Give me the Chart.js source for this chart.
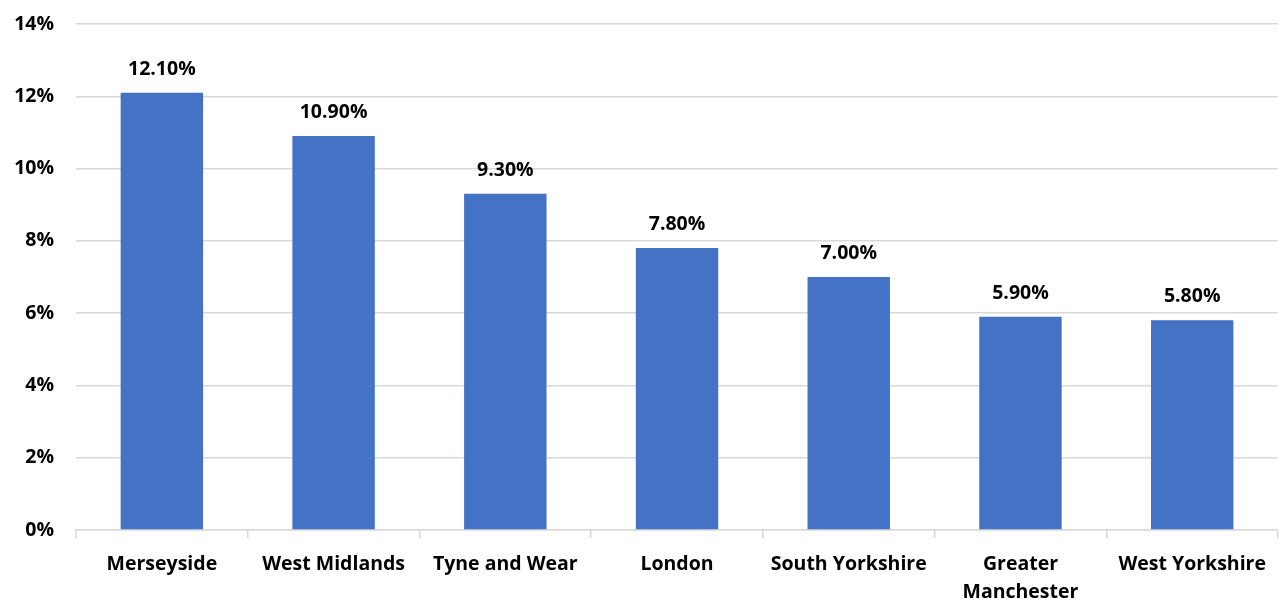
<!DOCTYPE html>
<html>
<head>
<meta charset="utf-8">
<script src="https://cdn.jsdelivr.net/npm/chart.js@4/dist/chart.umd.min.js"></script>
<style>
  html, body { margin: 0; padding: 0; background: #fff; }
  #wrap { width: 1279px; height: 599px; }
</style>
</head>
<body>
<div id="wrap"><canvas id="c" width="1279" height="599"></canvas></div>
<script>
// Share of population by metropolitan county
const regions = ['Merseyside', 'West Midlands', 'Tyne and Wear', 'London', 'South Yorkshire', ['Greater', 'Manchester'], 'West Yorkshire'];
const shares = [12.1, 10.9, 9.3, 7.8, 7.0, 5.9, 5.8];
const yTicks = [0, 2, 4, 6, 8, 10, 12, 14];

const FONT = '"Open Sans", "Noto Sans", sans-serif';
const SIZE = 19.5;

// Writes each bar's value above it
const valueLabels = {
  id: 'valueLabels',
  afterDatasetsDraw(chart) {
    const ctx = chart.ctx;
    const meta = chart.getDatasetMeta(0);
    ctx.save();
    ctx.font = 'bold ' + SIZE + 'px ' + FONT;
    ctx.fillStyle = '#000';
    ctx.textAlign = 'center';
    ctx.textBaseline = 'alphabetic';
    meta.data.forEach((bar, i) => {
      ctx.fillText(shares[i].toFixed(2) + '%', bar.x, bar.y - 18);
    });
    ctx.restore();
  }
};

new Chart(document.getElementById('c'), {
  type: 'bar',
  data: {
    labels: regions,
    datasets: [{
      data: shares,
      backgroundColor: '#4472C4',
      borderWidth: 0,
      barPercentage: 0.48,
      categoryPercentage: 1
    }]
  },
  options: {
    responsive: false,
    animation: false,
    events: [],
    layout: { padding: { top: 24, right: 0, left: 0, bottom: 0 } },
    plugins: { legend: { display: false }, tooltip: { enabled: false } },
    scales: {
      x: {
        grid: {
          offset: true,
          drawOnChartArea: false,
          drawTicks: true,
          tickLength: 8,
          color: '#d9d9d9',
          lineWidth: 1.5
        },
        border: { display: true, color: '#d9d9d9', width: 1.5 },
        ticks: {
          color: '#000',
          font: { family: FONT, size: SIZE, weight: 'bold', lineHeight: 1.42 },
          padding: 13,
          maxRotation: 0,
          autoSkip: false
        },
        afterFit(scale) { scale.height = 69; }
      },
      y: {
        min: 0,
        max: 14,
        afterBuildTicks(scale) { scale.ticks = yTicks.map(v => ({ value: v })); },
        grid: { color: '#d9d9d9', lineWidth: 1.5, drawTicks: false },
        border: { display: false },
        ticks: {
          color: '#000',
          font: { family: FONT, size: SIZE, weight: 'bold', lineHeight: 0.2 },
          padding: 22,
          callback: v => v + '%'
        },
        afterFit(scale) { scale.width = 76; }
      }
    }
  },
  plugins: [valueLabels]
});
</script>
</body>
</html>
